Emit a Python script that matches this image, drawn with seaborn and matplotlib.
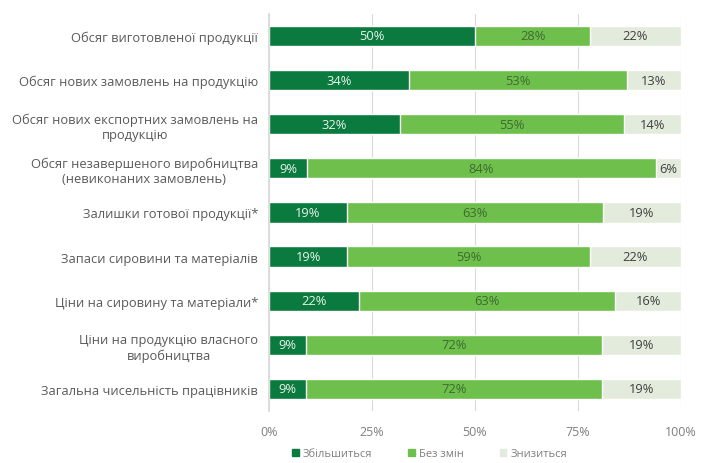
import matplotlib
matplotlib.use("Agg")
import matplotlib.pyplot as plt
import seaborn as sns
import pandas as pd
import numpy as np
from matplotlib.patches import Patch

categories = [
    "Обсяг виготовленої продукції",
    "Обсяг нових замовлень на продукцію",
    "Обсяг нових експортних замовлень на\nпродукцію",
    "Обсяг незавершеного виробництва\n(невиконаних замовлень)",
    "Залишки готової продукції*",
    "Запаси сировини та матеріалів",
    "Ціни на сировину та матеріали*",
    "Ціни на продукцію власного\nвиробництва",
    "Загальна чисельність працівників",
]
increase = [50, 34, 32, 9, 19, 19, 22, 9, 9]
no_change = [28, 53, 55, 84, 63, 59, 63, 72, 72]
decrease = [22, 13, 14, 6, 19, 22, 16, 19, 19]
series_names = ["Збільшиться", "Без змін", "Знизиться"]
xticks = [0, 25, 50, 75, 100]

c_dark = "#0b7a3e"
c_mid = "#6fbf4d"
c_light = "#e3ebdc"

inc = np.array(increase, float)
nc = np.array(no_change, float)
dec = np.array(decrease, float)
tot = inc + nc + dec
p_inc = inc / tot * 100
p_nc = nc / tot * 100
p_dec = dec / tot * 100

df = pd.DataFrame({
    "cat": categories,
    "s1": p_inc,
    "s2": p_inc + p_nc,
    "s3": p_inc + p_nc + p_dec,
})

sns.set_theme(style="white")
plt.rcParams["font.family"] = ["Open Sans", "DejaVu Sans"]

fig = plt.figure(figsize=(7.01, 4.64), dpi=100)
ax = fig.add_axes([0.384, 0.112, 0.587, 0.856])

bw = 0.46
sns.barplot(data=df, x="s3", y="cat", color=c_light, width=bw, ax=ax, saturation=1, orient="h")
sns.barplot(data=df, x="s2", y="cat", color=c_mid, width=bw, ax=ax, saturation=1, orient="h")
sns.barplot(data=df, x="s1", y="cat", color=c_dark, width=bw, ax=ax, saturation=1, orient="h")

fs_bar = 9.3
for i in range(len(categories)):
    ax.text(p_inc[i] / 2, i, f"{increase[i]}%", ha="center", va="center",
            color="#e8f3ea", fontsize=fs_bar)
    ax.text(p_inc[i] + p_nc[i] / 2, i, f"{no_change[i]}%", ha="center", va="center",
            color="#3c6b2e", fontsize=fs_bar)
    ax.text(p_inc[i] + p_nc[i] + p_dec[i] / 2, i, f"{decrease[i]}%", ha="center", va="center",
            color="#404040", fontsize=fs_bar)

ax.set_xlim(0, 100)
ax.set_ylim(len(categories) - 0.5, -0.5)
ax.set_xticks(xticks)
ax.set_xticklabels([f"{t}%" for t in xticks], color="#7f7f7f", fontsize=9)
ax.set_xlabel("")
ax.set_ylabel("")
ax.tick_params(axis="y", labelsize=9.3, labelcolor="#595959", length=0, pad=8)
ax.tick_params(axis="x", length=0, pad=10)
for lbl in ax.get_yticklabels():
    lbl.set_horizontalalignment("right")
    lbl.set_multialignment("center")
    lbl.set_linespacing(1.25)

ax.set_axisbelow(True)
ax.xaxis.grid(True, color="#d9d9d9", linewidth=0.8)
for s in ["top", "right", "bottom"]:
    ax.spines[s].set_visible(False)
ax.spines["left"].set_color("#d9d9d9")

handles = [Patch(color=c_dark), Patch(color=c_mid), Patch(color=c_light)]
fig.legend(handles, series_names, loc="center", bbox_to_anchor=(0.613, 0.02),
           ncol=3, frameon=False, fontsize=8, handlelength=0.6, handleheight=0.6,
           columnspacing=3.2, handletextpad=0.4, labelcolor="#7f7f7f")

fig.savefig("out.png", dpi=100)
